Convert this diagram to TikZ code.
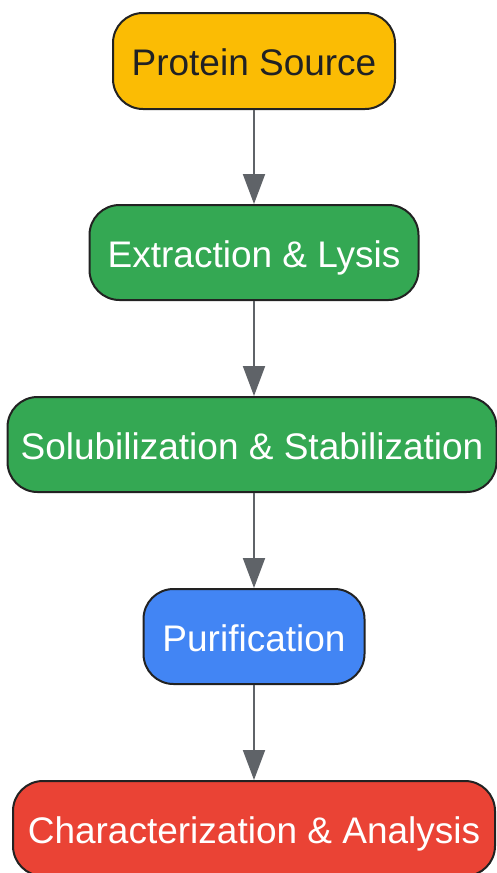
\documentclass[tikz,border=0pt]{standalone}
\usepackage{fontspec}
\setmainfont{Liberation Sans}
\usetikzlibrary{arrows.meta}
\definecolor{cyellow}{HTML}{FBBC04}
\definecolor{cgreen}{HTML}{34A853}
\definecolor{cblue}{HTML}{4285F4}
\definecolor{cred}{HTML}{EA4335}
\definecolor{cedge}{HTML}{5F6368}
\definecolor{cborder}{HTML}{222222}
\definecolor{cdark}{HTML}{202124}
\tikzset{
  stepbox/.style={draw=cborder, line width=2pt, rounded corners=30pt, inner sep=0pt,
    minimum height=95pt, text height=29.5pt, text depth=0pt,
    font=\fontsize{37}{44}\selectfont, text=white},
  flow/.style={draw=cedge, line width=2pt, -{Triangle[width=22pt,length=30pt]}, cedge}
}
\begin{document}
\begin{tikzpicture}[x=1pt,y=-1pt]
\useasboundingbox (0,0) rectangle (497,873);
\node[stepbox, fill=cyellow, text=cdark, minimum width=282pt, minimum height=96pt] (ps) at (254,61) {Protein Source};
\node[stepbox, fill=cgreen, minimum width=329pt] (el) at (254,252.5) {Extraction \& Lysis};
\node[stepbox, fill=cgreen, minimum width=489pt] (ss) at (252,444.5) {Solubilization \& Stabilization};
\node[stepbox, fill=cblue, minimum width=221pt] (pu) at (254,636.5) {Purification};
\node[stepbox, fill=cred, minimum width=482pt] (ca) at (254,828.5) {Characterization \& Analysis};
\draw[flow] (ps.south) -- (el.north);
\draw[flow] (el.south) -- (ss.north -| el.south);
\draw[flow] (ss.south -| pu.north) -- (pu.north);
\draw[flow] (pu.south) -- (ca.north);
\end{tikzpicture}
\end{document}
